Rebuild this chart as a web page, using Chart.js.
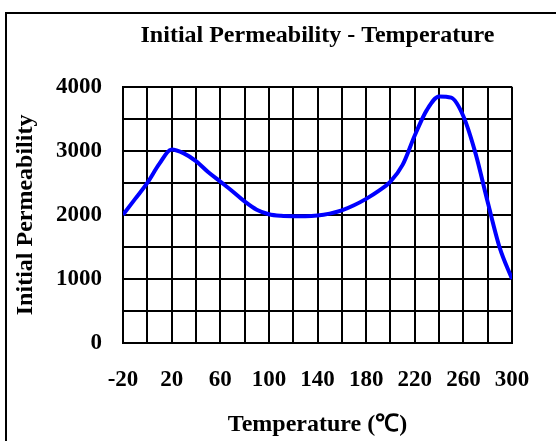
<!DOCTYPE html>
<html lang="en">
<head>
  <meta charset="UTF-8" />
  <title>Initial Permeability - Temperature</title>
  <script src="https://cdn.jsdelivr.net/npm/chart.js"></script>
  <style>
    html, body {
      margin: 0;
      padding: 0;
      background: #fff;
      overflow: hidden;
    }
    .wrap {
      position: relative;
      width: 556px;
      height: 441px;
    }
    .frame {
      position: absolute;
      left: 5px;
      top: 12px;
      width: 600px;
      height: 500px;
      border: 2px solid #000;
      pointer-events: none;
    }
  </style>
</head>
<body>
  <div class="wrap">
    <canvas id="permChart" width="556" height="441"></canvas>
    <div class="frame"></div>
  </div>

  <script>
    // ------------------------------------------
    // Data
    // ------------------------------------------
    const TEMPERATURES = [-20, -10, 0, 10, 20, 30, 40, 50, 60, 70, 80, 90, 100,
                          110, 120, 130, 140, 150, 160, 170, 180, 190, 200,
                          210, 220, 230, 240, 250, 260, 270, 280, 290, 300];
    const PERMEABILITY = [2000, 2250, 2500, 2800, 3020, 2960, 2840, 2670, 2520,
                          2370, 2210, 2080, 2010, 1985, 1980, 1980, 1990, 2020,
                          2070, 2150, 2250, 2370, 2520, 2780, 3240, 3640, 3850,
                          3830, 3540, 2960, 2200, 1480, 1000];
    const X_LABELS = [-20, 20, 60, 100, 140, 180, 220, 260, 300];
    const Y_LABELS = [0, 1000, 2000, 3000, 4000];

    const FONT = "'Liberation Serif', 'Times New Roman', serif";

    const points = TEMPERATURES.map((t, i) => ({ x: t, y: PERMEABILITY[i] }));

    const ctx = document.getElementById('permChart').getContext('2d');

    new Chart(ctx, {
      type: 'line',
      data: {
        datasets: [{
          data: points,
          borderColor: '#0000ff',
          borderWidth: 4,
          pointRadius: 0,
          fill: false,
          cubicInterpolationMode: 'monotone'
        }]
      },
      options: {
        responsive: false,
        animation: false,
        layout: {
          padding: { left: 0, right: 44, top: 0, bottom: 0 }
        },
        plugins: {
          legend: { display: false },
          tooltip: { enabled: false },
          title: {
            display: true,
            fullSize: false,
            text: 'Initial Permeability - Temperature',
            color: '#000',
            font: { family: FONT, size: 24, weight: 'bold' },
            padding: { top: 21, bottom: 37 }
          }
        },
        scales: {
          x: {
            type: 'linear',
            min: -20,
            max: 300,
            afterFit: s => { s.height = 98; },
            afterBuildTicks: s => {
              const t = [];
              for (let v = -20; v <= 300; v += 20) t.push({ value: v });
              s.ticks = t;
            },
            ticks: {
              autoSkip: false,
              maxRotation: 0,
              padding: 23,
              color: '#000',
              font: { family: FONT, size: 23, weight: 'bold' },
              callback: v => X_LABELS.includes(v) ? String(v) : ''
            },
            grid: { color: '#000', lineWidth: 2, drawTicks: false },
            border: { color: '#000', width: 2 },
            title: {
              display: true,
              text: 'Temperature (℃)',
              color: '#000',
              font: { family: FONT, size: 24, weight: 'bold' },
              padding: { top: 0, bottom: 2 }
            }
          },
          y: {
            min: 0,
            max: 4000,
            afterFit: s => { s.width = 123; },
            afterBuildTicks: s => {
              const t = [];
              for (let v = 0; v <= 4000; v += 500) t.push({ value: v });
              s.ticks = t;
            },
            ticks: {
              autoSkip: false,
              padding: 21,
              color: '#000',
              font: { family: FONT, size: 23, weight: 'bold' },
              callback: v => Y_LABELS.includes(v) ? String(v) : ''
            },
            grid: { color: '#000', lineWidth: 2, drawTicks: false },
            border: { color: '#000', width: 2 },
            title: {
              display: true,
              text: 'Initial Permeability',
              color: '#000',
              font: { family: FONT, size: 24, weight: 'bold' },
              padding: { top: 11, bottom: 0 }
            }
          }
        }
      }
    });
  </script>
</body>
</html>
